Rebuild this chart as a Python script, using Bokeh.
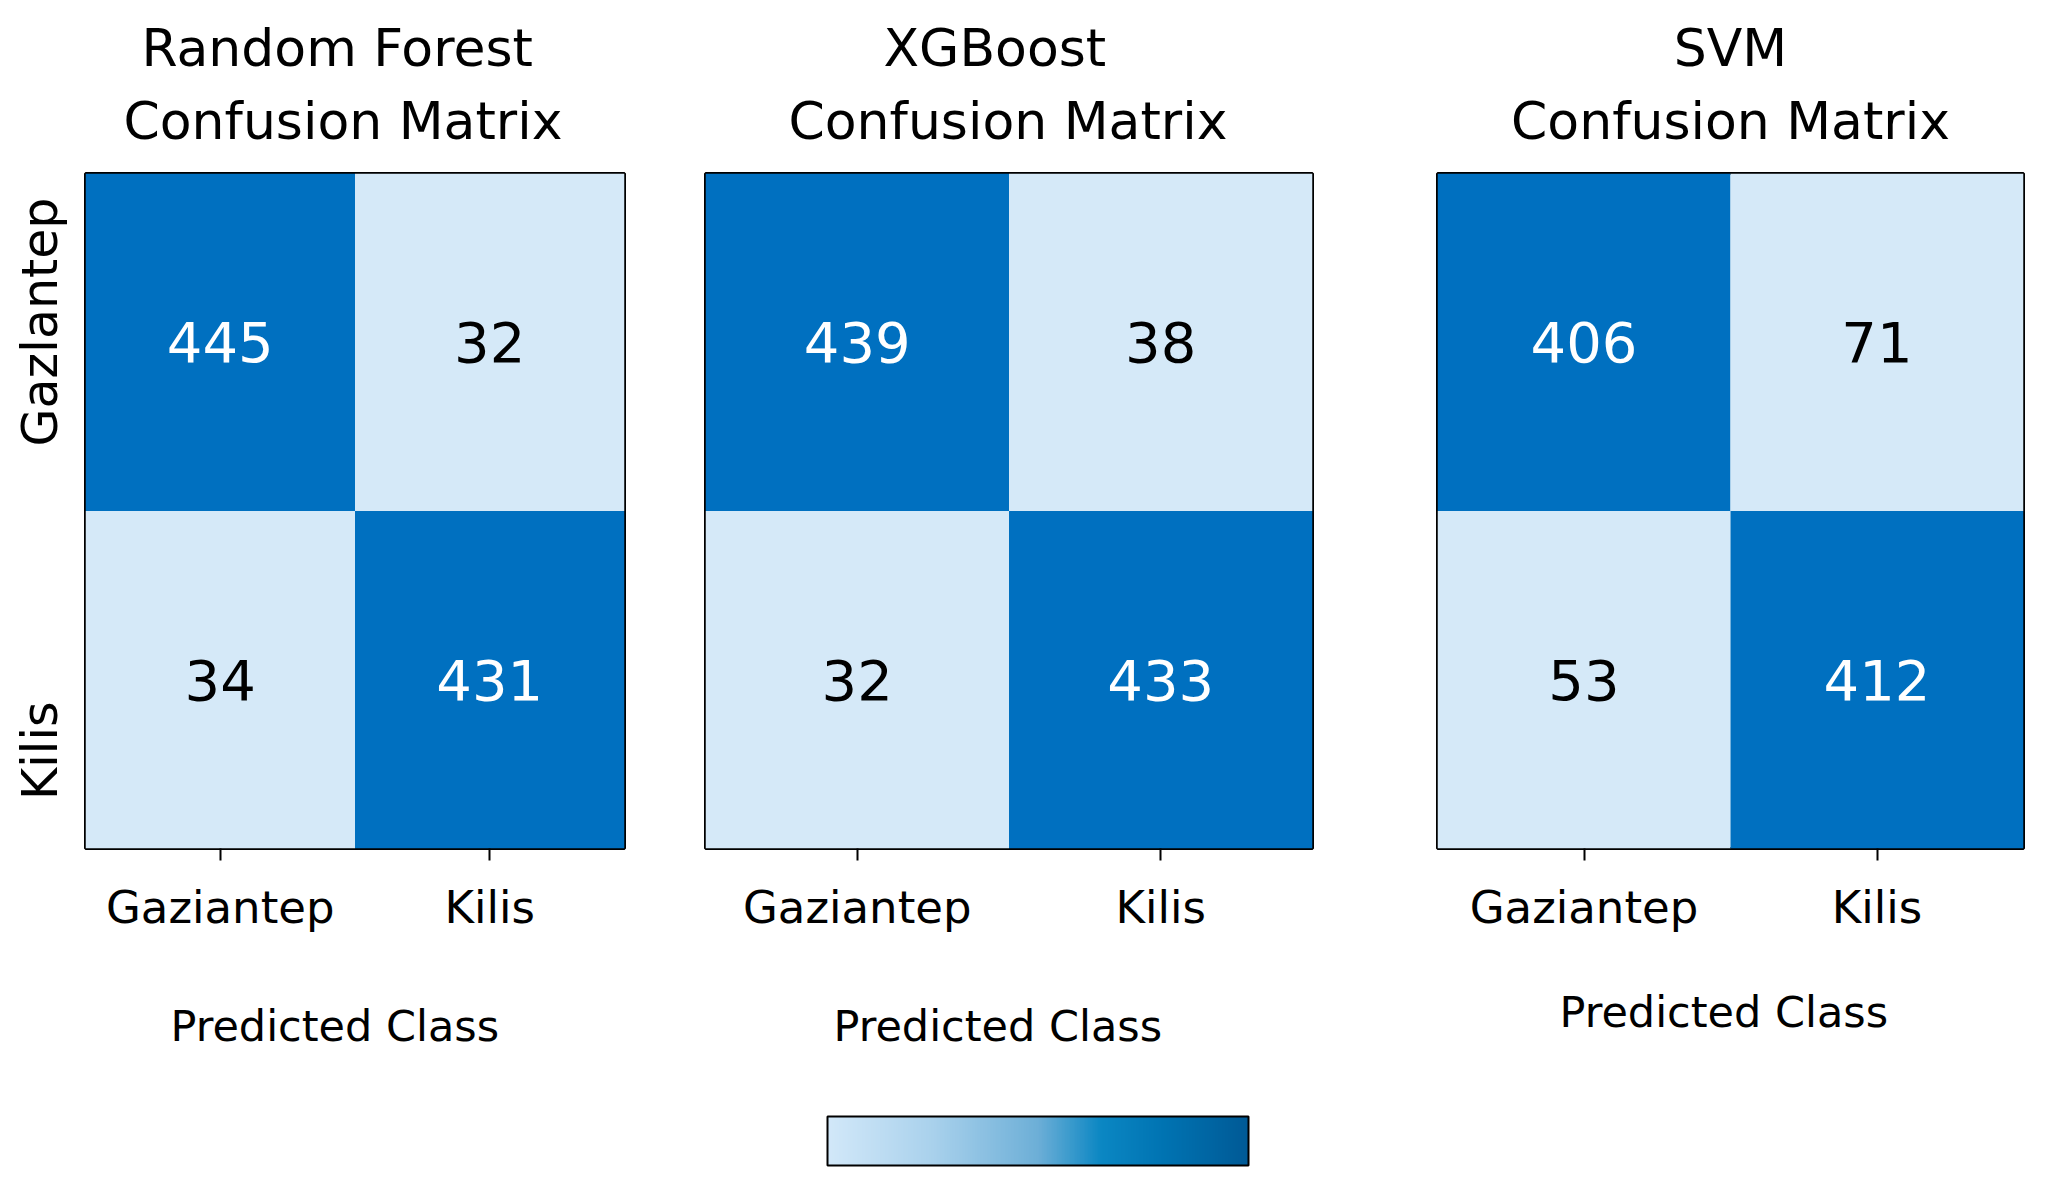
import numpy as np
from bokeh.plotting import figure
from bokeh.models import (ColumnDataSource, LinearColorMapper, ColorBar, FixedTicker,
                          Title, Range1d)
from bokeh.layouts import row, column
from bokeh.transform import transform
from bokeh.embed import file_html
from bokeh.resources import INLINE
from bokeh.core.properties import value

# ---------------- data ----------------
models = ["Random Forest", "XGBoost", "SVM"]
pred_classes = ["Gaziantep", "Kilis"]
actual_labels = ["Gazlantep", "Kilis"]
x_axis_title = "Predicted Class"
subtitle = "Confusion Matrix"
rf_counts = [[445, 32], [34, 431]]
xgb_counts = [[439, 38], [32, 433]]
svm_counts = [[406, 71], [53, 412]]

FONT = "DejaVu Sans"
LIGHT = "#d5e9f8"
DARK = "#0070c0"

all_vals = [v for m in (rf_counts, xgb_counts, svm_counts) for r in m for v in r]
lo, hi = min(all_vals), max(all_vals)
fill_mapper = LinearColorMapper(palette=[LIGHT, DARK], low=lo, high=hi)
text_mapper = LinearColorMapper(palette=["black", "white"], low=lo, high=hi)

# gradient for the colour bar
anchor_pos = [0.0, 0.25, 0.5, 0.65, 0.8, 1.0]
anchor_col = ["#d2e8f9", "#a9d1ec", "#6dafd7", "#0b87c3", "#0073b2", "#005a96"]
def _rgb(h):
    return [int(h[i:i + 2], 16) for i in (1, 3, 5)]
rgbs = np.array([_rgb(c) for c in anchor_col], dtype=float)
t = np.linspace(0, 1, 256)
grad = ["#%02x%02x%02x" % tuple(int(round(np.interp(tt, anchor_pos, rgbs[:, k]))) for k in range(3)) for tt in t]


def make_panel(name, counts, fw, bl, br, show_y, xlab_pos, title_pos):
    p = figure(frame_width=fw, frame_height=675,
               x_range=Range1d(0, 2), y_range=Range1d(0, 2),
               output_backend="svg", toolbar_location=None,
               min_border_left=bl, min_border_right=br, min_border_top=173,
               min_border_bottom=266,
               y_axis_location="left" if show_y else None)
    xs, ys, cs, ls = [], [], [], []
    n = len(counts)
    for i, r in enumerate(counts):
        for j, v in enumerate(r):
            xs.append(j + 0.5)
            ys.append(n - 1 - i + 0.5)
            cs.append(v)
            ls.append(str(v))
    src = ColumnDataSource(dict(x=xs, y=ys, count=cs, label=ls))
    p.rect(x="x", y="y", width=1, height=1, source=src,
           fill_color=transform("count", fill_mapper), line_color=None)
    p.text(x="x", y="y", text="label", source=src, text_align="center",
           text_baseline="middle", text_font=value(FONT), text_font_size="56px",
           text_color=transform("count", text_mapper))

    p.grid.visible = False
    p.outline_line_color = "black"
    p.outline_line_width = 3
    p.outline_line_alpha = 1.0
    p.background_fill_color = "white"
    p.border_fill_color = "white"

    xa = p.xaxis[0]
    xa.ticker = FixedTicker(ticks=[0.5, 1.5])
    xa.major_label_overrides = {0.5: pred_classes[0], 1.5: pred_classes[1]}
    xa.axis_line_color = None
    xa.major_tick_line_color = "black"
    xa.major_tick_line_width = 2
    xa.major_tick_out = 12
    xa.major_tick_in = 0
    xa.minor_tick_line_color = None
    xa.major_label_standoff = 20
    xa.major_label_text_font = FONT
    xa.major_label_text_font_size = "45px"
    xa.major_label_text_color = "black"

    xoff, xstand = xlab_pos
    p.add_layout(Title(text=x_axis_title, align="left", offset=xoff, standoff=xstand,
                       text_font=FONT, text_font_size="43px", text_font_style="normal",
                       text_color="black"), "below")

    if show_y:
        ya = p.yaxis[0]
        ya.ticker = FixedTicker(ticks=[1.5 + 0.06, 0.5 - 0.21])
        ya.major_label_overrides = {1.5 + 0.06: actual_labels[0], 0.5 - 0.21: actual_labels[1]}
        ya.axis_line_color = None
        ya.major_tick_line_color = None
        ya.minor_tick_line_color = None
        ya.major_label_orientation = "vertical"
        ya.major_label_standoff = 11
        ya.major_label_text_font = FONT
        ya.major_label_text_font_size = "49px"
        ya.major_label_text_color = "black"

    align, off2, off1 = title_pos
    p.add_layout(Title(text=subtitle, align=align, offset=off2, standoff=45,
                       text_font=FONT, text_font_size="52px", text_font_style="normal",
                       text_color="black"), "above")
    p.add_layout(Title(text=name, align=align, offset=off1, standoff=-22,
                       text_font=FONT, text_font_size="52px", text_font_style="normal",
                       text_color="black"), "above")
    return p


p_rf = make_panel(models[0], rf_counts, 539, 85, 41, True, (85, 125), ("left", 38, 56))
p_xgb = make_panel(models[1], xgb_counts, 607, 40, 63, False, (128, 125), ("left", 83, 178))
p_svm = make_panel(models[2], svm_counts, 586, 62, 11, False, (122, 96), ("center", 0, 0))

cb_fig = figure(width=2034, height=62, output_backend="svg", toolbar_location=None,
                min_border=0, x_axis_location=None, y_axis_location=None,
                x_range=Range1d(0, 1), y_range=Range1d(0, 1))
cb_fig.grid.visible = False
cb_fig.outline_line_color = None
cb = ColorBar(color_mapper=LinearColorMapper(palette=grad, low=lo, high=hi),
              orientation="horizontal", width=421, height=49, location=(827, 11),
              padding=0, margin=0, ticker=FixedTicker(ticks=[]),
              major_label_text_font_size="1px",
              major_tick_line_color=None, minor_tick_line_color=None,
              bar_line_color="black", bar_line_width=2, bar_line_alpha=1.0,
              background_fill_alpha=0, border_line_color=None)
cb_fig.add_layout(cb)

layout = column(row(p_rf, p_xgb, p_svm), cb_fig)
open("out.html", "w").write(file_html(layout, INLINE))
